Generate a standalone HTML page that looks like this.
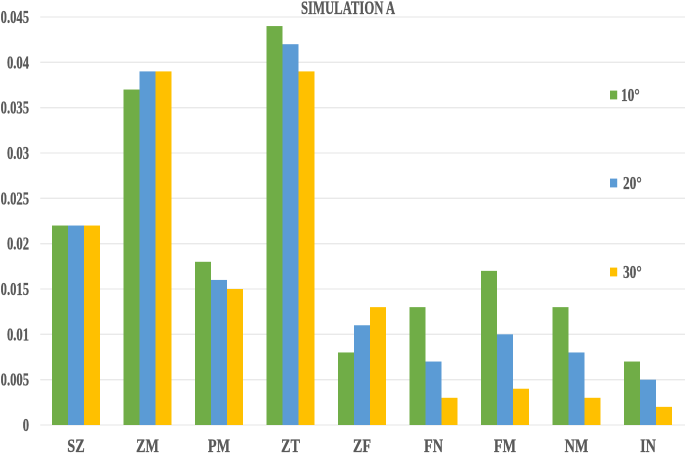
<!DOCTYPE html>
<html>
<head>
<meta charset="utf-8">
<style>
html,body{margin:0;padding:0;background:#fff;width:685px;height:454px;overflow:hidden}
svg{display:block}
text{font-family:"Liberation Serif",serif;font-weight:bold;fill:#595959;stroke:#595959;stroke-width:0.3}
</style>
</head>
<body>
<svg id="chart" width="685" height="454" viewBox="0 0 685 454" xmlns="http://www.w3.org/2000/svg">
  <g transform="translate(348,14) scale(0.67,1)"><text x="0" y="0" text-anchor="middle" font-size="19">SIMULATION A</text></g>
  <g id="grid"></g>
  <g id="bars"></g>
  <g id="yticks"></g>
  <g id="xticks"></g>
  <g id="legend"></g>
</svg>
<script>
var categories = ["SZ","ZM","PM","ZT","ZF","FN","FM","NM","IN"];
var values10 = [0.022,0.037,0.018,0.044,0.008,0.013,0.017,0.013,0.007];
var values20 = [0.022,0.039,0.016,0.042,0.011,0.007,0.010,0.008,0.005];
var values30 = [0.022,0.039,0.015,0.039,0.013,0.003,0.004,0.003,0.002];
var yTicks = [0,0.005,0.01,0.015,0.02,0.025,0.03,0.035,0.04,0.045];
var seriesNames = ["10°","20°","30°"];

var NS = "http://www.w3.org/2000/svg";
var colors = ["#70ad47","#5b9bd5","#ffc000"];
var legendY = [95,183,272];
var legendTextX = [621,623,623];
var allSeries = [values10,values20,values30];
var plotLeft = 40.25, plotRight = 685, catWidth = 71.5, barWidth = 16;
var yZero = 425, yTop = 17, yMax = 0.045;

function yScale(v){ return yZero - (v / yMax) * (yZero - yTop); }
function xCenter(i){ return plotLeft + catWidth * (i + 0.5); }
function mk(tag, attrs, parent){
  var el = document.createElementNS(NS, tag);
  for (var k in attrs) el.setAttribute(k, attrs[k]);
  parent.appendChild(el);
  return el;
}
function squeezed(parent, x, y, str, anchor, size, sx){
  var g = mk("g", {transform:"translate("+x+","+y+") scale("+sx+",1)"}, parent);
  var t = mk("text", {x:0, y:0, "text-anchor":anchor, "font-size":size}, g);
  t.textContent = str;
  return g;
}

var gridG = document.getElementById("grid");
var yG = document.getElementById("yticks");
yTicks.forEach(function(v){
  var line = mk("line", {x1:plotLeft, x2:plotRight, y1:yScale(v), y2:yScale(v), stroke:"#e9e9e9", "stroke-width":1.3}, gridG);
  
  
  var lab = squeezed(yG, 29, yScale(v) + 6, String(v), "end", 17.5, 0.72);
  
  
});

var barsG = document.getElementById("bars");
allSeries.forEach(function(series, s){
  series.forEach(function(v, i){
    var x = xCenter(i) - 1.5 * barWidth + s * barWidth;
    var r = mk("rect", {x:x, y:yScale(v), width:barWidth, height:yZero - yScale(v), fill:colors[s]}, barsG);
    
    
  });
});

var xG = document.getElementById("xticks");
categories.forEach(function(c, i){
  var lab = squeezed(xG, xCenter(i), 452, c, "middle", 19, 0.75);
  
  
});

var legG = document.getElementById("legend");
seriesNames.forEach(function(n, i){
  var sw = mk("rect", {x:610, y:legendY[i] - 4.4, width:7.2, height:8.8, fill:colors[i]}, legG);
  
  
  var lab = squeezed(legG, legendTextX[i], legendY[i] + 6, n, "start", 18, 0.74);
  
  
});
</script>
</body>
</html>
